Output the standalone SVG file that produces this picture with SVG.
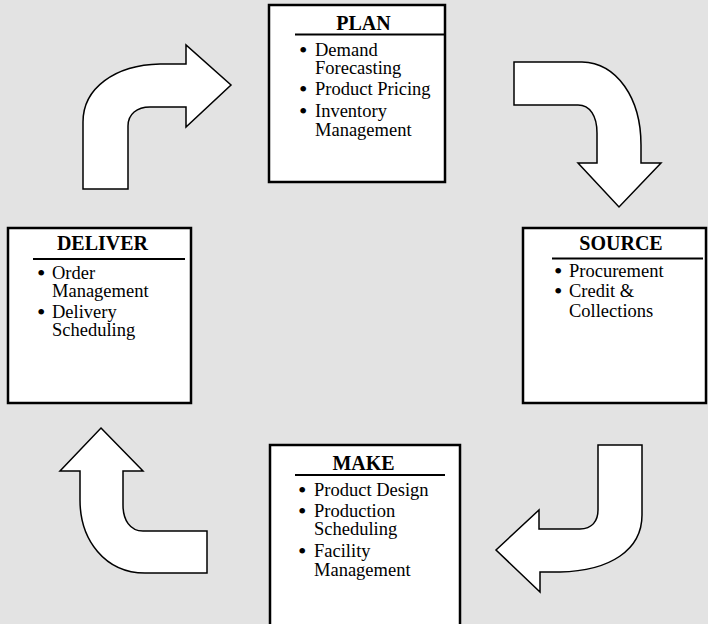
<svg xmlns="http://www.w3.org/2000/svg" width="708" height="624" viewBox="0 0 708 624">
<style>
.box{fill:#fff;stroke:#000;stroke-width:2.5}
.arrow{fill:#fff;stroke:#000;stroke-width:1.5;stroke-linejoin:miter}
.title{font-family:"Liberation Serif",serif;font-weight:bold;font-size:20px;text-anchor:middle;fill:#000}
.item{font-family:"Liberation Serif",serif;font-size:18.5px;fill:#000}
.b{font-size:24px}
.rule{stroke:#000;stroke-width:2.2}
</style>
<rect x="0" y="0" width="708" height="624" fill="#e3e3e3"/>
<g id="connectors">
<path class="arrow" d="M83,189 L83,122 C83,88 115,65 160,64 L186,64 L186,45 L231,85 L186,127 L186,107 L150,107 C137,107 128,114 128,126 L128,189 Z"/>
<path class="arrow" d="M514,62 L582,62 C617,63 641,98 641,145 L641,163 L661,163 L619,207 L578,163 L597,163 L597,133 C597,116 590,105 578,105 L514,105 Z"/>
<path class="arrow" d="M598,445 L642,445 L642,515 C642,550 610,571 560,572 L540,572 L540,592 L496,550 L539,510 L539,529 L580,529 C592,529 598,521 598,510 Z"/>
<path class="arrow" d="M101,428 L143,471 L123,471 L123,505 C123,520 130,531 143,531 L207,531 L207,573 L145,573 C105,573 80,540 80,500 L80,471 L60,471 Z"/>
</g>
<g id="plan">
<rect class="box" x="269" y="5" width="176" height="177"/>
<text class="title" x="363.5" y="30">PLAN</text>
<line class="rule" x1="295" y1="34.5" x2="445" y2="34.5"/>
<text class="item"><tspan class="b" x="299" y="58">•</tspan><tspan x="315" y="56">Demand</tspan></text>
<text class="item" x="315" y="74">Forecasting</text>
<text class="item"><tspan class="b" x="299" y="97">•</tspan><tspan x="315" y="95">Product Pricing</tspan></text>
<text class="item"><tspan class="b" x="299" y="119">•</tspan><tspan x="315" y="117">Inventory</tspan></text>
<text class="item" x="315" y="136">Management</text>
</g>
<g id="deliver">
<rect class="box" x="8" y="228" width="183" height="175"/>
<text class="title" x="102.5" y="250">DELIVER</text>
<line class="rule" x1="33" y1="259" x2="185" y2="259"/>
<text class="item"><tspan class="b" x="37" y="281">•</tspan><tspan x="52" y="279">Order</tspan></text>
<text class="item" x="52" y="297">Management</text>
<text class="item"><tspan class="b" x="37" y="320">•</tspan><tspan x="52" y="318">Delivery</tspan></text>
<text class="item" x="52" y="336">Scheduling</text>
</g>
<g id="source">
<rect class="box" x="523" y="228" width="183" height="175"/>
<text class="title" x="621" y="250">SOURCE</text>
<line class="rule" x1="552" y1="258.5" x2="703" y2="258.5"/>
<text class="item"><tspan class="b" x="554" y="279">•</tspan><tspan x="569" y="277">Procurement</tspan></text>
<text class="item"><tspan class="b" x="554" y="299">•</tspan><tspan x="569" y="297">Credit &amp;</tspan></text>
<text class="item" x="569" y="316.5">Collections</text>
</g>
<g id="make">
<rect class="box" x="270" y="445" width="190" height="190"/>
<text class="title" x="363.5" y="469.5">MAKE</text>
<line class="rule" x1="295" y1="475" x2="445" y2="475"/>
<text class="item"><tspan class="b" x="298" y="498">•</tspan><tspan x="314" y="496">Product Design</tspan></text>
<text class="item"><tspan class="b" x="298" y="518.5">•</tspan><tspan x="314" y="516.5">Production</tspan></text>
<text class="item" x="314" y="535">Scheduling</text>
<text class="item"><tspan class="b" x="298" y="558.5">•</tspan><tspan x="314" y="556.5">Facility</tspan></text>
<text class="item" x="314" y="576">Management</text>
</g>
</svg>
